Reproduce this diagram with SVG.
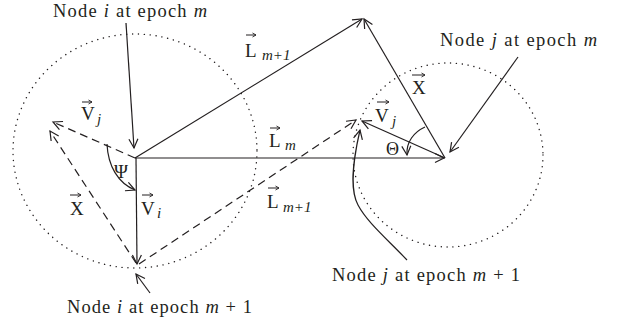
<svg xmlns="http://www.w3.org/2000/svg" width="617" height="327" viewBox="0 0 617 327">
<style>
text{font-family:"Liberation Serif","DejaVu Serif",serif;fill:#231f20}
.lbl{font-size:18.5px}
.sym{font-size:19px}
.sub{font-size:15px;font-style:italic}
.it{font-style:italic}
.ln{stroke:#231f20;stroke-width:1.2;fill:none}
.da{stroke-dasharray:8 5}
.dot{stroke:#231f20;stroke-width:1.4;fill:none;stroke-dasharray:0.1 5.8;stroke-linecap:round}
.va{stroke:#231f20;stroke-width:1;fill:none}
</style>
<defs>
<marker id="ah" markerUnits="userSpaceOnUse" markerWidth="14" markerHeight="14" viewBox="-12 -6 14 12" refX="0" refY="0" orient="auto">
<path d="M-9,-4.5 L0,0 L-9,4.5" fill="none" stroke="#231f20" stroke-width="1.2"/>
</marker>
<marker id="sa" markerUnits="userSpaceOnUse" markerWidth="8" markerHeight="8" viewBox="-6 -4 8 8" refX="0" refY="0" orient="auto">
<path d="M-3.5,-2 L0,0 L-3.5,2" fill="none" stroke="#231f20" stroke-width="0.9"/>
</marker>
</defs>
<rect width="617" height="327" fill="#fff"/>
<g id="circles">
<ellipse class="dot" cx="135" cy="151" rx="122" ry="117"/>
<ellipse class="dot" cx="448" cy="155" rx="95" ry="92"/>
</g>
<g id="connectors">
<line class="ln" x1="135" y1="158" x2="362" y2="19" marker-end="url(#ah)"/>
<line class="ln" x1="445" y1="158" x2="364" y2="19" marker-end="url(#ah)"/>
<line class="ln" x1="135" y1="158" x2="444" y2="158" marker-end="url(#ah)"/>
<line class="ln" x1="136" y1="158" x2="137" y2="264" marker-end="url(#ah)"/>
<line class="ln" x1="445" y1="158" x2="362" y2="121" marker-end="url(#ah)"/>
<line class="ln da" x1="135" y1="158" x2="53" y2="122" marker-end="url(#ah)"/>
<line class="ln da" x1="136" y1="263" x2="50" y2="131" marker-end="url(#ah)"/>
<line class="ln da" x1="139" y1="264" x2="356" y2="120" marker-end="url(#ah)"/>
<path class="ln" d="M107,144 C108,166 118,183 135,190" marker-end="url(#ah)"/>
<path class="ln" d="M425,127 C414,132 406,142 407,155" marker-end="url(#ah)"/>
<line class="ln" x1="126" y1="23" x2="134" y2="148" marker-end="url(#ah)"/>
<line class="ln" x1="518" y1="57" x2="450" y2="152" marker-end="url(#ah)"/>
<line class="ln" x1="150" y1="293" x2="136" y2="274" marker-end="url(#ah)"/>
<path class="ln" d="M407,260 C386,238 367,222 358,205 C350,190 352,165 360,130" marker-end="url(#ah)"/>
</g>
<g id="node-i-m">
<text class="lbl" x="53" y="16.5" textLength="154" lengthAdjust="spacing">Node <tspan class="it">i</tspan> at epoch <tspan class="it">m</tspan></text>
</g>
<g id="node-j-m">
<text class="lbl" x="440" y="46" textLength="157" lengthAdjust="spacing">Node <tspan class="it">j</tspan> at epoch <tspan class="it">m</tspan></text>
</g>
<g id="node-j-m1">
<text class="lbl" x="332" y="281" textLength="188" lengthAdjust="spacing">Node <tspan class="it">j</tspan> at epoch <tspan class="it">m</tspan> + 1</text>
</g>
<g id="node-i-m1">
<text class="lbl" x="67" y="313" textLength="185" lengthAdjust="spacing">Node <tspan class="it">i</tspan> at epoch <tspan class="it">m</tspan> + 1</text>
</g>
<g id="vector-labels">
<text class="sym" x="245" y="57">L</text><text class="sub" x="262" y="60">m+1</text>
<line class="va" x1="246" y1="35" x2="256" y2="35" marker-end="url(#sa)"/>
<text class="sym" x="269" y="147">L</text><text class="sub" x="285" y="150">m</text>
<line class="va" x1="270" y1="128" x2="280" y2="128" marker-end="url(#sa)"/>
<text class="sym" x="267" y="208">L</text><text class="sub" x="283" y="212">m+1</text>
<line class="va" x1="268" y1="188" x2="279" y2="188" marker-end="url(#sa)"/>
<text class="sym" x="81" y="120">V</text><text class="sub" x="97" y="124">j</text>
<line class="va" x1="82" y1="102" x2="92" y2="102" marker-end="url(#sa)"/>
<text class="sym" x="70" y="215">X</text>
<line class="va" x1="70" y1="195" x2="81" y2="195" marker-end="url(#sa)"/>
<text class="sym" x="141" y="215">V</text><text class="sub" x="157" y="218">i</text>
<line class="va" x1="142" y1="195" x2="153" y2="195" marker-end="url(#sa)"/>
<text class="sym" x="412" y="94">X</text>
<line class="va" x1="412" y1="75" x2="425" y2="75" marker-end="url(#sa)"/>
<text class="sym" x="375" y="122">V</text><text class="sub" x="392" y="126">j</text>
<line class="va" x1="377" y1="102" x2="389" y2="102" marker-end="url(#sa)"/>
<text class="sym" x="386" y="155" style="font-size:18px">Θ</text>
<text class="sym" x="114" y="178" style="font-size:19px">Ψ</text>
</g>
</svg>
